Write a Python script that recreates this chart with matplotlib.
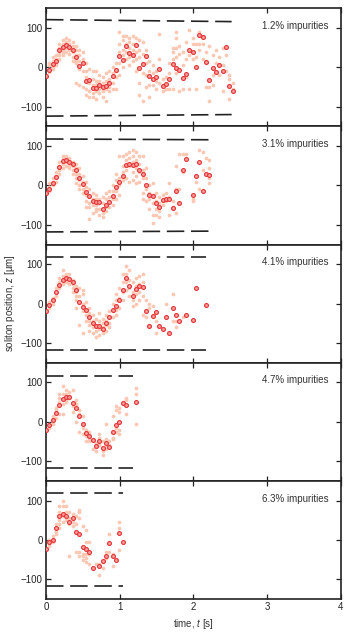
import matplotlib
matplotlib.use('Agg')
import matplotlib.pyplot as plt

plt.rcParams['font.family'] = ['Liberation Sans', 'DejaVu Sans']
plt.rcParams['mathtext.fontset'] = 'custom'
plt.rcParams['mathtext.rm'] = 'Liberation Sans'
plt.rcParams['mathtext.it'] = 'Liberation Sans:italic'

# time grid of the recorded frames [s]
t_grid = [0.0, 0.045, 0.09, 0.136, 0.181, 0.226, 0.271, 0.317, 0.362, 0.407,
          0.452, 0.498, 0.543, 0.588, 0.633, 0.679, 0.724, 0.769, 0.814, 0.86,
          0.905, 0.95, 0.995, 1.041, 1.086, 1.131, 1.176, 1.222, 1.267, 1.312,
          1.357, 1.403, 1.448, 1.493, 1.538, 1.584, 1.629, 1.674, 1.719, 1.765,
          1.81, 1.855, 1.9, 1.946, 1.991, 2.036, 2.081, 2.127, 2.172, 2.217,
          2.262, 2.308, 2.353, 2.398, 2.443, 2.489, 2.534]

labels = ['1.2% impurities', '3.1% impurities', '4.1% impurities',
          '4.7% impurities', '6.3% impurities']

# mean soliton position per frame (None = no point)
mean_12 = [-22, -7, 9, 17, 44, 51, 56, 51, 45, 27, 3, 10, -36, -32, -53, -53, -44, -51, -47, -41,
           -22, -7, 28, 19, 53, 37, 32, 56, -3, 9, 29, -21, -30, -24, -5, -48, -43, -30, 9, -3,
           -7, -27, -16, 43, 38, 0, 83, 77, 14, -32, -1, -11, 7, -9, 52, -47, -60]
mean_31 = [-20, -10, 5, 22, 46, 63, 65, 60, 55, 39, 18, 3, -16, -26, -39, -43, -42, -61, -50, -41,
           -28, -4, 9, 24, 51, 55, 53, 55, 39, 29, 2, -24, -26, -45, -55, -38, -34, -34, -56, -14,
           -45, 39, 68, None, -24, 23, 60, -14, 30, 27]
mean_41 = [-19, -4, 8, 29, 47, 61, 66, 63, 56, 35, 3, -8, -17, -35, -49, -57, -58, -64, -48, -34,
           -17, -5, 8, 34, 64, 44, 19, 36, 45, 42, -18, -58, -31, -22, -56, -64, -34, -75, -11, -29,
           -45, None, -28, None, -41, 40, None, None, -3]
mean_47 = [-22, -9, 4, 23, 42, 59, 62, 64, 48, 36, 14, -6, -29, -36, -47, -62, -49, -66, -53, -64,
           -25, -7, 0, 47, 43, None, None, 51]
mean_63 = [-23, -6, -1, 30, 60, 66, 60, 45, 55, 21, 14, -17, -24, -30, -71, None, -65, -53, -42, -9,
           -42, -50, 17, -6]

# individual soliton positions per frame
runs_12 = [[], [-5, 5, 10, -12], [15, 25, 0, -5], [30, 20, 10, 5], [60, 50, 35, 30, 20],
           [70, 60, 45, 40, 30], [75, 65, 50, 40], [70, 60, 45, 35], [65, 55, 40, 25, 15],
           [55, 45, 30, 15, 10, -40], [45, 30, 15, -5, -45], [40, 20, 10, -10, -50],
           [10, -10, -25, -55, -70], [-5, -40, -60, -75], [-10, -30, -45, -65, -75],
           [-10, -35, -45, -60, -80], [-20, -35, -55, -65], [-25, -40, -60, -75],
           [-15, -35, -55, -85], [-10, -30, -50, -60], [0, -15, -40, -55], [10, -10, -25, -55],
           [90, 60, 40, 10, -20], [80, 70, 45, 30, 0], [80, 60, 40, 20], [75, 65, 50, 25, 5],
           [80, 60, 45, 15], [75, 40, 20, -10], [70, 45, 25, -40, -70], [65, 35, -15, -85],
           [45, 10, -20, -50], [15, -10, -45, -75], [5, -15, -45], [-10, -35, -55], [85, 20, -40],
           [-30, -45, -60], [-25, -55], [10, -15, -55], [50, 40, 20, -55], [90, 75, 50, 25, -15],
           [55, 35, -60], [40, 5, -55], [65, 20, -25], [95, 30, -55], [75, 60, 40, 20],
           [60, 25, -55], [90, 60, 45], [80, 60, 20], [40, 15, -50], [55, -50, -85],
           [30, -20, -45], [45, 10], [25, -20], [50, 5, -60], [30, -10], [-20, -30, -80], [-40, -55]]
runs_31 = [[], [-15, -5, 5], [0, 10, 20], [10, 25, 35], [60, 50, 40, 30], [75, 70, 55, 45],
           [75, 70, 60, 50], [70, 65, 50, 45], [60, 50, 40, 30], [55, 45, 30, 20, 5],
           [45, 30, 15, 0, -10], [25, 10, -10, -20], [10, -5, -25, -40, -55],
           [-10, -30, -45, -55, -85], [-20, -35, -50, -70], [-25, -35, -50, -60, -65],
           [-35, -45, -60, -75], [-30, -45, -60, -70, -80], [-20, -35, -55, -65],
           [-15, -30, -40, -55], [0, -15, -35, -50], [30, 15, -15, -35], [75, 20, 0, -25],
           [75, 50, 35, 15], [80, 65, 40, 20], [85, 70, 50, 10], [90, 75, 60, 35, 15],
           [85, 65, 45, 25, 5], [75, 55, 35, 10], [75, 40, 20, -20, -35], [45, 20, -10, -40],
           [0, -20, -35, -60], [5, -25, -45, -75, -95], [-20, -40, -60, -75], [-30, -45, -65, -80],
           [-25, -40, -50], [-20, -40], [5, -30, -75], [-40, -55], [50, -10, -70], [80, -10],
           [80, 35], [80], [], [-35, -40], [10, 25], [60, 90, -10], [85, 40], [70, 30],
           [65, 20, 45, 5]]
runs_41 = [[], [-10, 0, 5], [0, 10, 15], [20, 30, 40], [65, 55, 40], [85, 70, 60, 50],
           [75, 70, 60, 55], [75, 65, 55, 50], [60, 50, 40, 30], [45, 30, 20, 10, -10],
           [40, 20, 5, -55], [35, 25, 0, -20, -75], [5, -15, -30, -45], [-10, -25, -45, -55, -70],
           [-30, -45, -60, -75], [-40, -55, -70, -85], [-45, -55, -65, -80, -25],
           [-40, -50, -60, -75], [-30, -45, -55, -70], [-20, -35, -50, -60], [0, -20, -35],
           [25, 10, -15, -30], [40, 15, -10], [75, 55, 30, 10], [95, 75, 55, 35],
           [85, 60, 40, 20], [55, 30, 10, -5], [65, 45, 25, 0], [70, 50, 30, 10],
           [75, 55, 20, -30], [10, -20, -35], [0, -10, -55], [-5, -30], [-45, -75], [], [],
           [0], [], [25, -45], [-45, -60], [], [-35], [], [], [], [], [], [], []]
runs_47 = [[], [-15, -5], [-5, 10, 15], [10, 30, 35], [20, 50, 60, 70], [90, 70, 45, 20],
           [80, 70, 55, 50], [75, 65, 60], [80, 40, 25], [55, 45, 0], [30, 20, -25],
           [15, -15, -30], [-20, -35, -50], [-25, -40, -50], [-45, -70], [-55, -75],
           [-30, -40, -55, -60], [-50, -75, -85], [-5, -45, -60, -70], [-50, -60],
           [-40, -45, 15], [-15, -25, 30, 40], [-30, -20, 25, 35], [50, 45], [60, 20, 55],
           [], [], [85, 70, -5]]
runs_63 = [[], [-15, 0, -10], [0, 10, -5], [20, 40, 15], [85, 70, 50, 40, 30],
           [100, 85, 60, 45], [85, 70, 50], [70, 40, 55, -40], [65, 45, 35], [60, 40, -30],
           [75, 70, 55, -30, -40], [35, -35, -40, -50], [25, -5, -35, -45, -55], [-5, -35, -60],
           [], [-60], [-60, -90], [-55, -70], [-30, -45], [15, -30], [-65, -35], [],
           [45, 30, -25], [-5]]

# dashed confinement limits: end time, upper (start, end), lower (start, end)
limit_end = [2.52, 2.21, 2.17, 1.18, 1.05]
upper_start = [121, 118, 119, 117, 118]
upper_end = [116, 116, 119, 117, 118]
lower_start = [-124, -118, -117, -118, -118]
lower_end = [-120, -116, -117, -118, -118]

means = [mean_12, mean_31, mean_41, mean_47, mean_63]
runs = [runs_12, runs_31, runs_41, runs_47, runs_63]

fig, axes = plt.subplots(5, 1, figsize=(3.51, 6.32), dpi=100, sharex=True)
fig.subplots_adjust(left=0.131, right=0.9707, top=0.987, bottom=0.0522, hspace=0)

for i, ax in enumerate(axes):
    # limits
    for ys in [(upper_start[i], upper_end[i]), (lower_start[i], lower_end[i])]:
        ax.plot([0, limit_end[i]], ys, color='#222222', lw=1.2, dashes=(10.5, 4.0))

    tx, ty = [], []
    for k, vals in enumerate(runs[i]):
        for v in vals:
            tx.append(t_grid[k])
            ty.append(v)
    ax.plot(tx, ty, 'o', ms=2.7, color='#fcc8b4', mec='none', zorder=2)

    mx = [t_grid[k] for k, v in enumerate(means[i]) if v is not None]
    my = [v for v in means[i] if v is not None]
    ax.plot(mx, my, 'o', ms=2.8, mfc='#f7a09a', mec='#e63236', mew=0.8, zorder=3)

    ax.text(0.96, 0.85, labels[i], transform=ax.transAxes, ha='right', va='center',
            fontsize=7, color='#333333')

    ax.set_xlim(0, 4)
    ax.set_ylim(-150, 150)
    ax.set_xticks([0, 1, 2, 3, 4])
    ax.set_yticks([-100, 0, 100])
    ax.tick_params(direction='in', length=3.5, width=0.9, top=True, right=True,
                   labelsize=7, colors='#222222', pad=2.5)
    for s in ax.spines.values():
        s.set_linewidth(1.2)
        s.set_color('#222222')

fig.text(0.551, 0.013, 'time, $t$ [s]', ha='center', va='center', fontsize=7, color='#333333')
fig.text(0.028, 0.52, 'soliton position, $z$ [µm]', ha='center', va='center',
         rotation=90, fontsize=7, color='#333333')

plt.savefig('out.png', dpi=100)
